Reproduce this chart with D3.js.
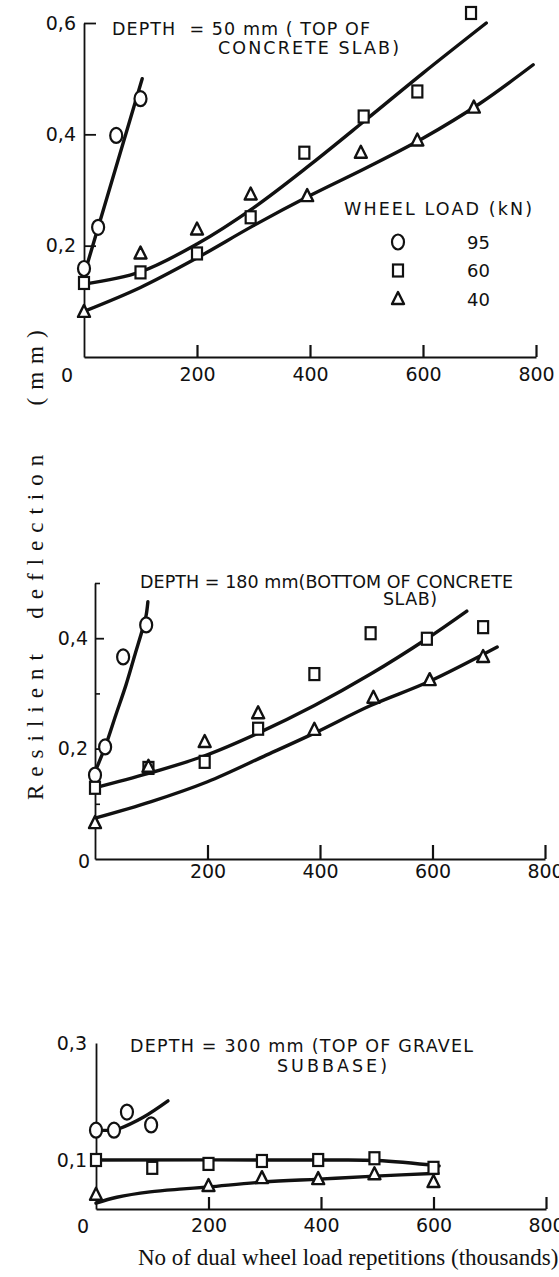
<!DOCTYPE html>
<html>
<head>
<meta charset="utf-8">
<script src="https://cdn.jsdelivr.net/npm/d3@7"></script>
<style>
    body { margin: 0; background: #fff; }
    svg { display: block; }
    text { fill: #111; }
</style>
</head>
<body>
<div id="chart"></div>
<script>
// wheel loads (kN) and their marker shapes
const loads = ['95', '60', '40'];
const shapes = ['circle', 'square', 'triangle'];
const xTicks = [200, 400, 600, 800];

// depth 50 mm (top of concrete slab)
const topReps95 = [0, 25, 57, 100];
const topDefl95 = [0.159, 0.233, 0.398, 0.464];
const topReps60 = [0, 100, 200, 295, 390, 495, 590, 685];
const topDefl60 = [0.133, 0.152, 0.186, 0.251, 0.367, 0.432, 0.477, 0.618];
const topReps40 = [0, 100, 200, 295, 395, 490, 590, 690];
const topDefl40 = [0.081, 0.186, 0.229, 0.292, 0.289, 0.367, 0.389, 0.448];
const topFitReps95 = [0, 103];
const topFitDefl95 = [0.147, 0.50];
const topFitReps60 = [0, 100, 200, 300, 400, 500, 600, 712];
const topFitDefl60 = [0.131, 0.153, 0.203, 0.268, 0.345, 0.427, 0.51, 0.6];
const topFitReps40 = [0, 100, 200, 300, 400, 500, 600, 700, 795];
const topFitDefl40 = [0.082, 0.125, 0.178, 0.236, 0.29, 0.34, 0.393, 0.455, 0.525];

// depth 180 mm (bottom of concrete slab)
const midReps95 = [0, 18, 50, 91];
const midDefl95 = [0.152, 0.203, 0.366, 0.424];
const midReps60 = [0, 95, 195, 290, 390, 490, 590, 690];
const midDefl60 = [0.129, 0.165, 0.176, 0.236, 0.335, 0.409, 0.399, 0.42];
const midReps40 = [0, 95, 195, 290, 390, 495, 595, 690];
const midDefl40 = [0.065, 0.167, 0.212, 0.264, 0.234, 0.292, 0.324, 0.366];
const midFitReps95 = [0, 18, 37, 55, 71, 85, 91, 94];
const midFitDefl95 = [0.158, 0.203, 0.261, 0.315, 0.37, 0.418, 0.442, 0.466];
const midFitReps60 = [0, 95, 195, 290, 390, 490, 590, 661];
const midFitDefl60 = [0.129, 0.155, 0.187, 0.228, 0.278, 0.335, 0.399, 0.449];
const midFitReps40 = [0, 100, 200, 300, 390, 490, 595, 715];
const midFitDefl40 = [0.074, 0.104, 0.14, 0.186, 0.228, 0.278, 0.322, 0.384];

// depth 300 mm (top of gravel subbase)
const botReps95 = [0, 32, 55, 98];
const botDefl95 = [0.151, 0.151, 0.182, 0.16];
const botReps60 = [0, 100, 200, 295, 395, 495, 600];
const botDefl60 = [0.1, 0.084, 0.092, 0.098, 0.1, 0.103, 0.084];
const botReps40 = [0, 200, 295, 395, 495, 600];
const botDefl40 = [0.029, 0.047, 0.063, 0.061, 0.071, 0.055];
const botFitReps95 = [0, 32, 40, 84, 128];
const botFitDefl95 = [0.151, 0.151, 0.153, 0.173, 0.201];
const botFitReps60 = [0, 400, 500, 610];
const botFitDefl60 = [0.1, 0.1, 0.099, 0.088];
const botFitReps40 = [0, 37, 96, 155, 200, 297, 396, 496, 608];
const botFitDefl40 = [0.012, 0.024, 0.035, 0.041, 0.045, 0.055, 0.061, 0.067, 0.073];

const ink = '#111';
const sans = 'DejaVu Sans, sans-serif';
const serif = 'Liberation Serif, Times New Roman, serif';

const zip = (xs, ys) => xs.map((x, i) => ({ x, y: ys[i] }));

const svg = d3.select('#chart')
    .append('svg')
    .attr('width', 559)
    .attr('height', 1277);

const panels = [{
    x: d3.scaleLinear().domain([0, 800]).range([84, 536]),
    y: d3.scaleLinear().domain([0, 0.6]).range([357, 23]),
    yTicks: [0.2, 0.4, 0.6],
    yMinor: [],
    yTickSize: 12,
    yPad: 8,
    xTickSize: 12,
    xPad: 11,
    zero: [67, 382],
    points: [zip(topReps95, topDefl95), zip(topReps60, topDefl60), zip(topReps40, topDefl40)],
    fits: [zip(topFitReps95, topFitDefl95), zip(topFitReps60, topFitDefl60), zip(topFitReps40, topFitDefl40)],
    title: [
        { text: 'DEPTH  = 50 mm ( TOP OF', x: 112, y: 35, len: 258 },
        { text: 'CONCRETE SLAB)', x: 218, y: 54, len: 181 },
    ],
}, {
    x: d3.scaleLinear().domain([0, 800]).range([95, 545]),
    y: d3.scaleLinear().domain([0, 0.5]).range([859, 583]),
    yTicks: [0.2, 0.4],
    yMinor: [0.1, 0.3, 0.5],
    yTickSize: 9,
    yPad: 7,
    xTickSize: 14,
    xPad: 6,
    zero: [84, 868],
    points: [zip(midReps95, midDefl95), zip(midReps60, midDefl60), zip(midReps40, midDefl40)],
    fits: [zip(midFitReps95, midFitDefl95), zip(midFitReps60, midFitDefl60), zip(midFitReps40, midFitDefl40)],
    title: [
        { text: 'DEPTH = 180 mm(BOTTOM OF CONCRETE', x: 140, y: 588, len: 373 },
        { text: 'SLAB)', x: 383, y: 605, len: 54 },
    ],
}, {
    x: d3.scaleLinear().domain([0, 800]).range([96, 546]),
    y: d3.scaleLinear().domain([0, 0.1, 0.3]).range([1209, 1160, 1043]),
    yTicks: [0.1, 0.3],
    yMinor: [],
    yTickSize: 0,
    yPad: 9,
    xTickSize: 12,
    xPad: 10,
    zero: [83, 1233],
    points: [zip(botReps95, botDefl95), zip(botReps60, botDefl60), zip(botReps40, botDefl40)],
    fits: [zip(botFitReps95, botFitDefl95), zip(botFitReps60, botFitDefl60), zip(botFitReps40, botFitDefl40)],
    title: [
        { text: 'DEPTH = 300 mm (TOP OF GRAVEL', x: 130, y: 1052, len: 343 },
        { text: 'SUBBASE)', x: 277, y: 1072, len: 110 },
    ],
}];

function drawMarker(g, shape, cx, cy) {
    if (shape === 'circle') {
        g.append('ellipse')
            .attr('cx', cx).attr('cy', cy)
            .attr('rx', 6).attr('ry', 7.5)
            .attr('fill', '#fff').attr('stroke', ink).attr('stroke-width', 2.2);
    } else if (shape === 'square') {
        g.append('rect')
            .attr('x', cx - 5).attr('y', cy - 6)
            .attr('width', 10).attr('height', 12)
            .attr('fill', '#fff').attr('stroke', ink).attr('stroke-width', 2.2);
    } else {
        g.append('path')
            .attr('d', `M${cx},${cy - 7}L${cx + 6},${cy + 5}L${cx - 6},${cy + 5}Z`)
            .attr('fill', '#fff').attr('stroke', ink).attr('stroke-width', 2.4)
            .attr('stroke-linejoin', 'round');
    }
}

const commaFormat = (value) => d3.format('.1f')(value).replace('.', ',');

function styleAxis(g, width) {
    g.attr('font-family', sans).attr('font-size', 19);
    g.selectAll('.domain').attr('stroke', ink).attr('stroke-width', width);
    g.selectAll('.tick line').attr('stroke', ink).attr('stroke-width', width);
    g.selectAll('.tick text').attr('fill', ink);
}

panels.forEach((p) => {
    const g = svg.append('g');

    // x axis, ticks pointing up
    const xAxis = d3.axisBottom(p.x)
        .tickValues(xTicks)
        .tickSizeInner(-p.xTickSize)
        .tickSizeOuter(0)
        .tickPadding(p.xPad)
        .tickFormat(d3.format('d'));
    g.append('g')
        .attr('transform', `translate(0,${p.y(0)})`)
        .call(xAxis)
        .call((a) => styleAxis(a, 2.2));

    // y axis, ticks pointing right
    const yAxis = d3.axisLeft(p.y)
        .tickValues(p.yTicks)
        .tickSizeInner(-p.yTickSize)
        .tickSizeOuter(0)
        .tickPadding(p.yPad)
        .tickFormat(commaFormat);
    g.append('g')
        .attr('transform', `translate(${p.x(0)},0)`)
        .call(yAxis)
        .call((a) => styleAxis(a, 1.8));

    if (p.yMinor.length) {
        g.append('g')
            .attr('transform', `translate(${p.x(0)},0)`)
            .call(d3.axisLeft(p.y).tickValues(p.yMinor).tickSizeInner(-5).tickSizeOuter(0).tickFormat(''))
            .call((a) => styleAxis(a, 1.6))
            .select('.domain').remove();
    }

    g.append('text')
        .attr('x', p.zero[0]).attr('y', p.zero[1])
        .attr('text-anchor', 'middle')
        .attr('font-family', sans).attr('font-size', 19)
        .text('0');

    // fitted curves
    const line = d3.line()
        .curve(d3.curveCatmullRom.alpha(0.5))
        .x((d) => p.x(d.x))
        .y((d) => p.y(d.y));
    p.fits.forEach((fit) => {
        g.append('path')
            .attr('d', line(fit))
            .attr('fill', 'none')
            .attr('stroke', ink)
            .attr('stroke-width', 3.4)
            .attr('stroke-linecap', 'round');
    });

    // measured points
    p.points.forEach((series, i) => {
        series.forEach((d) => drawMarker(g, shapes[i], p.x(d.x), p.y(d.y)));
    });

    // panel title
    p.title.forEach((t) => {
        g.append('text')
            .attr('x', t.x).attr('y', t.y)
            .attr('font-family', sans).attr('font-size', 17.5)
            .attr('textLength', t.len)
            .attr('lengthAdjust', 'spacing')
            .attr('xml:space', 'preserve')
            .style('white-space', 'pre')
            .text(t.text);
    });
});

// Legend
const legend = svg.append('g');
legend.append('text')
    .attr('x', 344).attr('y', 215)
    .attr('font-family', sans).attr('font-size', 17.5)
    .attr('textLength', 188).attr('lengthAdjust', 'spacing')
    .text('WHEEL LOAD (kN)');
loads.forEach((load, i) => {
    const cy = 242 + i * 28.5;
    drawMarker(legend, shapes[i], 398, cy);
    legend.append('text')
        .attr('x', 467).attr('y', cy + 6.5)
        .attr('font-family', sans).attr('font-size', 18)
        .text(load);
});

// Axis titles
svg.append('text')
    .attr('transform', 'translate(43,800) rotate(-90)')
    .attr('font-family', serif).attr('font-size', 23)
    .attr('letter-spacing', 8)
    .attr('xml:space', 'preserve')
    .style('white-space', 'pre')
    .text('Resilient  deflection   (mm)');

svg.append('text')
    .attr('x', 138).attr('y', 1265)
    .attr('font-family', serif).attr('font-size', 23)
    .text('No of dual wheel load repetitions (thousands)');
</script>
</body>
</html>
